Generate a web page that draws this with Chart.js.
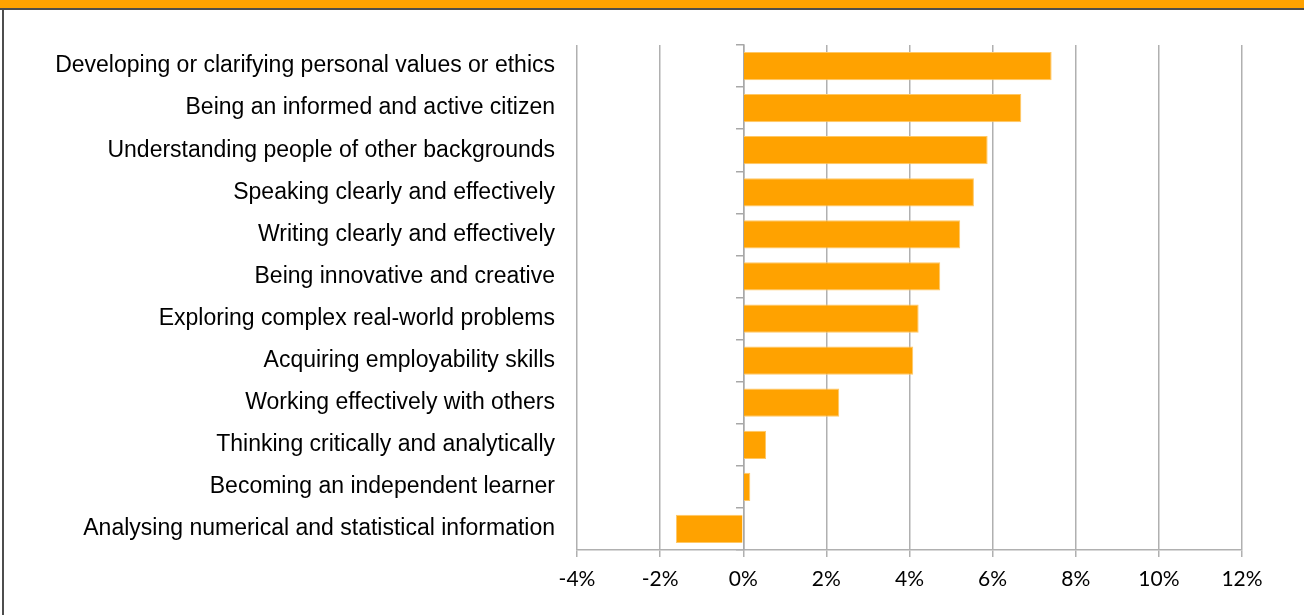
<!DOCTYPE html>
<html>
<head>
<meta charset="utf-8">
<script src="https://cdn.jsdelivr.net/npm/chart.js"></script>
<style>
  html, body { margin: 0; padding: 0; background: #fff; }
  #wrap { position: relative; width: 1304px; height: 615px; overflow: hidden; }
  #band { position: absolute; left: 0; top: 0; width: 1304px; height: 8px; background: #FFA200; }
  #rule { position: absolute; left: 0; top: 8px; width: 1304px; height: 2px; background: #4d4d4d; }
  #side { position: absolute; left: 2px; top: 8px; width: 2px; height: 607px; background: #4d4d4d; }
  canvas { position: absolute; left: 0; top: 0; }
</style>
</head>
<body>
<div id="wrap">
  <canvas id="myChart" width="1304" height="615"></canvas>
  <div id="band"></div>
  <div id="rule"></div>
  <div id="side"></div>
</div>
<script>
// Setup
const outcomes = [
  'Developing or clarifying personal values or ethics',
  'Being an informed and active citizen',
  'Understanding people of other backgrounds',
  'Speaking clearly and effectively',
  'Writing clearly and effectively',
  'Being innovative and creative',
  'Exploring complex real-world problems',
  'Acquiring employability skills',
  'Working effectively with others',
  'Thinking critically and analytically',
  'Becoming an independent learner',
  'Analysing numerical and statistical information',
];

// change in percentage points
const change = [7.42, 6.69, 5.88, 5.55, 5.22, 4.74, 4.22, 4.09, 2.31, 0.55, 0.17, -1.62];

const axisMin = -4;
const axisMax = 12;
const axisStep = 2;

const data = {
  labels: outcomes,
  datasets: [{
    label: 'Change',
    data: change,
    backgroundColor: '#FFA200',
    borderColor: '#FFC866',
    borderWidth: 1,
    categoryPercentage: 1,
    barPercentage: 0.67,
  }]
};

// Config
const config = {
  type: 'bar',
  data: data,
  options: {
    indexAxis: 'y',
    responsive: false,
    animation: false,
    layout: { padding: { top: 45, right: 62, left: 0, bottom: 0 } },
    plugins: {
      legend: { display: false },
      tooltip: { enabled: false },
    },
    scales: {
      x: {
        type: 'linear',
        position: 'bottom',
        min: axisMin,
        max: axisMax,
        ticks: {
          stepSize: axisStep,
          callback: v => v + '%',
          color: '#000',
          font: { family: 'Lato', size: 21 },
          padding: 10,
          maxRotation: 0,
        },
        grid: { color: '#b0b0b0', lineWidth: 1.5, tickLength: 7 },
        border: { color: '#b0b0b0', width: 1.5 },
        afterFit: s => { s.height = 65; },
      },
      y: {
        position: 'left',
        ticks: {
          color: '#000',
          font: { family: 'Liberation Sans', size: 23 },
          padding: 22,
          autoSkip: false,
        },
        grid: { display: false, drawTicks: false },
        border: { display: false },
        afterFit: s => { s.width = 577; },
      },
      // zero line with category tick marks
      zero: {
        type: 'category',
        axis: 'y',
        labels: outcomes,
        position: { x: 0 },
        offset: true,
        ticks: { display: false },
        grid: { drawOnChartArea: false, offset: true, tickLength: 7, color: '#a8a8a8', lineWidth: 1.5 },
        border: { color: '#a8a8a8', width: 1.5 },
        afterFit: s => { s.width = 0; },
      },
    },
  },
};

const myChart = new Chart(
  document.getElementById('myChart'),
  config
);
</script>
</body>
</html>
